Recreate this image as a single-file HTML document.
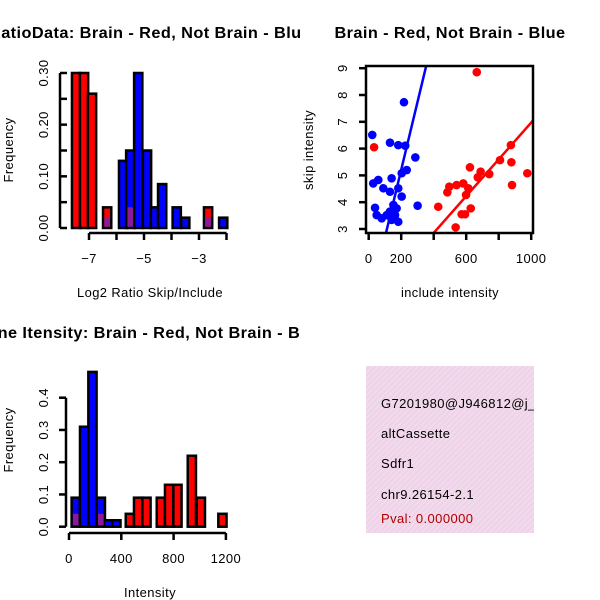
<!DOCTYPE html>
<html><head><meta charset="utf-8"><style>
html,body{margin:0;padding:0;background:#fff;}
svg{display:block;font-family:"Liberation Sans",sans-serif;}
text{letter-spacing:0.4px;}
</style></head><body>
<svg id="c" width="600" height="600" viewBox="0 0 600 600" xmlns="http://www.w3.org/2000/svg">
<defs>
<pattern id="hatch" width="4" height="4" patternUnits="userSpaceOnUse" patternTransform="rotate(45)">
<rect width="4" height="4" fill="#f6d6f0"/><rect width="1.3" height="4" fill="#e3d8dc"/>
</pattern>
<clipPath id="sc"><rect x="366" y="66" width="167" height="167"/></clipPath>
<clipPath id="q1"><rect x="0" y="0" width="300" height="300"/></clipPath>
<clipPath id="q2"><rect x="300" y="0" width="300" height="300"/></clipPath>
<clipPath id="q3"><rect x="0" y="300" width="300" height="300"/></clipPath>
</defs>
<g id="p1" clip-path="url(#q1)"></g>
<g id="p2" clip-path="url(#q2)"></g>
<g id="p3" clip-path="url(#q3)"></g>
<g>
<rect x="366" y="366" width="168" height="167" fill="url(#hatch)"/>
<svg x="366" y="366" width="168" height="167">
<text x="15" y="42" font-size="13">G7201980@J946812@j_</text>
</svg>
<text x="381" y="438" font-size="13">altCassette</text>
<text x="381" y="468" font-size="13">Sdfr1</text>
<text x="381" y="499" font-size="13">chr9.26154-2.1</text>
<text x="381" y="523" font-size="13" fill="#b00000">Pval: 0.000000</text>
</g>
</svg>
<script>
// ---- Plot 1 data: log2 ratio histogram
const ratioRedLefts = [-7.62,-7.33,-7.04,-6.49,-2.82];
const ratioRedFreq = [0.30,0.30,0.26,0.04,0.04];
const ratioBlueLefts = [-5.91,-5.65,-5.36,-5.04,-4.75,-4.49,-3.96,-3.65,-2.27];
const ratioBlueFreq = [0.13,0.15,0.30,0.15,0.04,0.085,0.04,0.02,0.02];
const ratioOverlapLefts = [-6.49,-5.65,-2.82];
const ratioOverlapFreq = [0.02,0.04,0.02];
const ratioXTicks = [-7,-6,-5,-4,-3,-2];
const ratioXLabels = [-7,-5,-3];
const ratioYTicks = [0,0.05,0.10,0.15,0.20,0.25,0.30];
const ratioYLabels = ["0.00","0.10","0.20","0.30"];
const ratioBinW = 0.3;
// ---- Plot 2 data: scatter
const blueX = [217,22,131,182,225,287,234,203,141,59,28,90,131,182,203,301,39,49,80,131,152,172,141,182,111,162];
const blueY = [7.73,6.51,6.22,6.13,6.11,5.67,5.2,5.08,4.89,4.83,4.70,4.52,4.39,4.52,4.21,3.87,3.79,3.52,3.40,3.65,3.90,3.77,3.34,3.27,3.52,3.52];
const redX = [665,33,875,808,878,623,689,671,742,976,882,582,541,496,484,613,599,428,628,593,572,535];
const redY = [8.85,6.05,6.13,5.57,5.49,5.30,5.14,4.93,5.05,5.08,4.64,4.70,4.64,4.58,4.37,4.52,4.27,3.83,3.77,3.55,3.55,3.06];
const blueFit = [0.17,0.0252]; // intercept, slope
const redFit = [0.11,0.00686];
const scatterXTicks = [0,200,400,600,800,1000];
const scatterXLabels = [0,200,600,1000];
const scatterYTicks = [3,4,5,6,7,8,9];
// ---- Plot 3 data: intensity histogram
const intBlueLefts = [20,84,148,212,268,331];
const intBlueFreq = [0.09,0.31,0.48,0.09,0.02,0.02];
const intRedLefts = [434,497,561,671,734,798,908,977,1142];
const intRedFreq = [0.04,0.09,0.09,0.09,0.13,0.13,0.22,0.09,0.04];
const intOverlapLefts = [20,212];
const intOverlapFreq = [0.04,0.04];
const intXTicks = [0,400,800,1200];
const intYTicks = [0,0.1,0.2,0.3,0.4];
const intYLabels = ["0.0","0.1","0.2","0.3","0.4"];
const intBinW = 63;

const NS="http://www.w3.org/2000/svg";
function mk(parent,tag,attrs,txt){const e=document.createElementNS(NS,tag);for(const k in attrs)e.setAttribute(k,attrs[k]);if(txt!==undefined)e.textContent=txt;parent.appendChild(e);return e;}
const TS=13;

// Plot 1
(function(){
const g=document.getElementById('p1');
const sx=u=>89+(u+7)*27.5, sy=v=>228-v*516.7;
mk(g,'text',{x:150,y:38,'font-size':16,'font-weight':'bold','text-anchor':'middle',textLength:322,lengthAdjust:'spacingAndGlyphs'},'RatioData: Brain - Red, Not Brain - Blue');
ratioBlueLefts.forEach((l,i)=>{const r=mk(g,'rect',{x:sx(l),y:sy(ratioBlueFreq[i]),width:ratioBinW*27.5,height:sy(0)-sy(ratioBlueFreq[i]),fill:'#0000ff',stroke:'#000','stroke-width':2.5});

});
ratioRedLefts.forEach((l,i)=>{const r=mk(g,'rect',{x:sx(l),y:sy(ratioRedFreq[i]),width:ratioBinW*27.5,height:sy(0)-sy(ratioRedFreq[i]),fill:'#ff0000',stroke:'#000','stroke-width':2.5});

});
ratioOverlapLefts.forEach((l,i)=>{const r=mk(g,'rect',{x:sx(l)+1.3,y:sy(ratioOverlapFreq[i]),width:ratioBinW*27.5-2.6,height:sy(0)-sy(ratioOverlapFreq[i])-1.3,fill:'#8a1a9a'});

});
mk(g,'line',{x1:sx(-7),x2:sx(-2),y1:233,y2:233,stroke:'#000','stroke-width':2.5});
ratioXTicks.forEach(t=>mk(g,'line',{x1:sx(t),x2:sx(t),y1:233,y2:240,stroke:'#000','stroke-width':2.5}));
ratioXLabels.forEach(t=>{const e=mk(g,'text',{x:sx(t),y:263,'font-size':TS,'text-anchor':'middle'},String(t).replace('-','\u2212'));});
mk(g,'line',{x1:60,x2:60,y1:sy(0),y2:sy(0.30),stroke:'#000','stroke-width':2.5});
ratioYTicks.forEach(t=>mk(g,'line',{x1:60,x2:67,y1:sy(t),y2:sy(t),stroke:'#000','stroke-width':2.5}));
ratioYLabels.forEach(t=>{const y=sy(parseFloat(t));const e=mk(g,'text',{x:48,y:y,'font-size':TS,'text-anchor':'middle',transform:`rotate(-90 48 ${y})`},t);});
mk(g,'text',{x:13,y:150,'font-size':TS,'text-anchor':'middle',transform:'rotate(-90 13 150)'},'Frequency');
mk(g,'text',{x:150,y:297,'font-size':TS,'text-anchor':'middle',textLength:146,lengthAdjust:'spacingAndGlyphs'},'Log2 Ratio Skip/Include');
})();

// Plot 2
(function(){
const g=document.getElementById('p2');
const sx=u=>368.7+u*0.1625, sy=v=>229-(v-3)*26.8;
mk(g,'text',{x:450,y:38,'font-size':16,'font-weight':'bold','text-anchor':'middle',textLength:231,lengthAdjust:'spacingAndGlyphs'},'Brain - Red, Not Brain - Blue');
const cg=mk(g,'g',{'clip-path':'url(#sc)'});
blueX.forEach((x,i)=>{const c=mk(cg,'circle',{cx:sx(x),cy:sy(blueY[i]),r:4.3,fill:'#0000ff'});

});
redX.forEach((x,i)=>{const c=mk(cg,'circle',{cx:sx(x),cy:sy(redY[i]),r:4.3,fill:'#ff0000'});

});
const fl=(f,col,nm)=>{const l=mk(cg,'line',{x1:sx(-100),y1:sy(f[0]+f[1]*-100),x2:sx(1100),y2:sy(f[0]+f[1]*1100),stroke:col,'stroke-width':2.5});};
fl(blueFit,'#0000ff','blue-fit-line');fl(redFit,'#ff0000','red-fit-line');
mk(g,'rect',{x:366,y:66,width:167,height:167,fill:'none',stroke:'#000','stroke-width':2.5});
scatterXTicks.forEach(t=>mk(g,'line',{x1:sx(t),x2:sx(t),y1:233,y2:240,stroke:'#000','stroke-width':2.5}));
scatterXLabels.forEach(t=>{const e=mk(g,'text',{x:sx(t),y:263,'font-size':TS,'text-anchor':'middle'},String(t));});
scatterYTicks.forEach(t=>{mk(g,'line',{x1:359,x2:366,y1:sy(t),y2:sy(t),stroke:'#000','stroke-width':2.5});
const e=mk(g,'text',{x:347,y:sy(t),'font-size':TS,'text-anchor':'middle',transform:`rotate(-90 347 ${sy(t)})`},String(t));});
mk(g,'text',{x:313,y:150,'font-size':TS,'text-anchor':'middle',transform:'rotate(-90 313 150)'},'skip intensity');
mk(g,'text',{x:450,y:297,'font-size':TS,'text-anchor':'middle',textLength:98,lengthAdjust:'spacingAndGlyphs'},'include intensity');
})();

// Plot 3
(function(){
const g=document.getElementById('p3');
const sx=u=>69+u*0.13075, sy=v=>526.7-v*322.5;
mk(g,'text',{x:150,y:338,'font-size':16,'font-weight':'bold','text-anchor':'middle',textLength:350,lengthAdjust:'spacingAndGlyphs'},'Gene Itensity: Brain - Red, Not Brain - Blue');
intBlueLefts.forEach((l,i)=>{const r=mk(g,'rect',{x:sx(l),y:sy(intBlueFreq[i]),width:intBinW*0.13075,height:sy(0)-sy(intBlueFreq[i]),fill:'#0000ff',stroke:'#000','stroke-width':2.5});

});
intRedLefts.forEach((l,i)=>{const r=mk(g,'rect',{x:sx(l),y:sy(intRedFreq[i]),width:intBinW*0.13075,height:sy(0)-sy(intRedFreq[i]),fill:'#ff0000',stroke:'#000','stroke-width':2.5});

});
intOverlapLefts.forEach((l,i)=>{const r=mk(g,'rect',{x:sx(l)+1.3,y:sy(intOverlapFreq[i]),width:intBinW*0.13075-2.6,height:sy(0)-sy(intOverlapFreq[i])-1.3,fill:'#8a1a9a'});

});
mk(g,'line',{x1:sx(0),x2:sx(1200),y1:533,y2:533,stroke:'#000','stroke-width':2.5});
intXTicks.forEach(t=>{mk(g,'line',{x1:sx(t),x2:sx(t),y1:533,y2:540,stroke:'#000','stroke-width':2.5});
const e=mk(g,'text',{x:sx(t),y:563,'font-size':TS,'text-anchor':'middle'},String(t));});
mk(g,'line',{x1:66,x2:66,y1:sy(0),y2:sy(0.4),stroke:'#000','stroke-width':2.5});
intYTicks.forEach((t,i)=>{mk(g,'line',{x1:59,x2:66,y1:sy(t),y2:sy(t),stroke:'#000','stroke-width':2.5});
const e=mk(g,'text',{x:48,y:sy(t),'font-size':TS,'text-anchor':'middle',transform:`rotate(-90 48 ${sy(t)})`},intYLabels[i]);});
mk(g,'text',{x:13,y:440,'font-size':TS,'text-anchor':'middle',transform:'rotate(-90 13 440)'},'Frequency');
mk(g,'text',{x:150,y:597,'font-size':TS,'text-anchor':'middle'},'Intensity');
})();
</script>
</body></html>
